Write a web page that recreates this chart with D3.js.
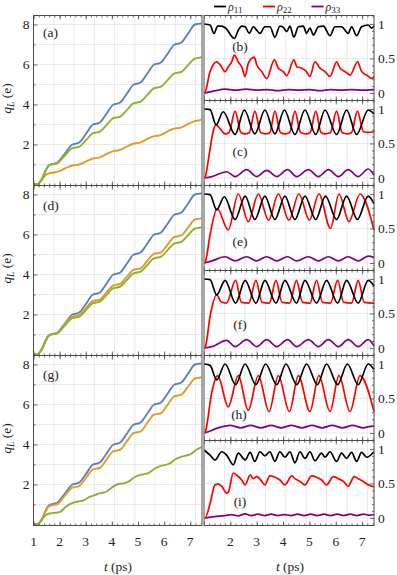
<!DOCTYPE html>
<html>
<head>
<meta charset="utf-8">
<script src="https://d3js.org/d3.v7.min.js"></script>
<style>
body{margin:0;background:#fff}
svg text{font-family:"Liberation Serif","DejaVu Serif",serif;fill:#222}
</style>
</head>
<body>
<div id="chart"></div>
<script>
// ---- data: [t (ps), value] ----
var qBlue=[[1,0],[1.15,0.01],[1.3,0.22],[1.45,0.65],[1.57,0.93],
 [1.66,1.0],[1.79,1.04],[1.92,1.1],[2.2,1.55],[2.49,2.0],[2.62,2.04],[2.75,2.1],[3.02,2.55],
 [3.28,3.0],[3.41,3.04],[3.54,3.1],[3.8,3.55],[4.06,4.0],[4.19,4.04],[4.32,4.1],[4.58,4.55],
 [4.84,5.0],[4.97,5.04],[5.1,5.1],[5.36,5.55],[5.62,6.0],[5.75,6.04],[5.88,6.1],[6.14,6.55],
 [6.4,7.0],[6.53,7.04],[6.66,7.1],[6.92,7.55],[7.18,8.0],[7.31,8.03],[7.45,8.06]];
var qGreenA=[[1,0],[1.15,0.01],[1.3,0.22],[1.45,0.65],[1.57,0.93],
 [1.66,1.0],[1.79,1.03],[1.92,1.07],[2.2,1.45],[2.49,1.82],[2.62,1.85],[2.75,1.89],[3.02,2.23],
 [3.28,2.57],[3.41,2.6],[3.54,2.64],[3.8,2.98],[4.06,3.32],[4.19,3.35],[4.32,3.39],[4.58,3.73],
 [4.84,4.07],[4.97,4.1],[5.1,4.14],[5.36,4.48],[5.62,4.82],[5.75,4.85],[5.88,4.89],[6.14,5.23],
 [6.4,5.56],[6.53,5.59],[6.66,5.63],[6.92,5.97],[7.18,6.3],[7.31,6.33],[7.45,6.37]];
var qOrangeA=[[1,0],[1.15,0.01],[1.3,0.2],[1.45,0.45],[1.57,0.55],
 [1.66,0.58],[1.79,0.6],[1.92,0.64],[2.2,0.8],[2.49,0.95],[2.62,0.97],[2.75,1.0],[3.02,1.16],
 [3.28,1.3],[3.41,1.32],[3.54,1.36],[3.8,1.53],[4.06,1.67],[4.19,1.69],[4.32,1.73],[4.58,1.9],
 [4.84,2.05],[4.97,2.07],[5.1,2.11],[5.36,2.28],[5.62,2.42],[5.75,2.44],[5.88,2.48],[6.14,2.66],
 [6.4,2.8],[6.53,2.82],[6.66,2.86],[6.92,3.03],[7.18,3.17],[7.31,3.2],[7.45,3.26]];
var qOrangeD=[[1,0],[1.15,0.01],[1.3,0.22],[1.45,0.65],[1.57,0.93],
 [1.66,1.0],[1.79,1.03],[1.92,1.07],[2.2,1.5],[2.49,1.9],[2.62,1.93],[2.75,1.97],[3.02,2.34],
 [3.28,2.68],[3.41,2.71],[3.54,2.75],[3.8,3.12],[4.06,3.46],[4.19,3.49],[4.32,3.53],[4.58,3.9],
 [4.84,4.24],[4.97,4.27],[5.1,4.31],[5.36,4.69],[5.62,5.04],[5.75,5.07],[5.88,5.11],[6.14,5.51],
 [6.4,5.88],[6.53,5.91],[6.66,5.95],[6.92,6.36],[7.18,6.75],[7.31,6.78],[7.45,6.81]];
var qOrangeG=[[1,0],[1.15,0.01],[1.3,0.21],[1.45,0.62],[1.57,0.88],
 [1.66,0.95],[1.79,0.98],[1.92,1.02],[2.2,1.44],[2.49,1.85],[2.62,1.88],[2.75,1.92],[3.02,2.35],
 [3.28,2.76],[3.41,2.79],[3.54,2.83],[3.8,3.26],[4.06,3.67],[4.19,3.7],[4.32,3.74],[4.58,4.17],
 [4.84,4.58],[4.97,4.61],[5.1,4.65],[5.36,5.09],[5.62,5.5],[5.75,5.53],[5.88,5.57],[6.14,6.0],
 [6.4,6.42],[6.53,6.45],[6.66,6.49],[6.92,6.9],[7.18,7.3],[7.31,7.33],[7.45,7.36]];
var qGreenG=[[1,0],[1.15,0.01],[1.3,0.2],[1.45,0.45],[1.6,0.55],[1.8,0.58],[2.0,0.62],[2.25,0.9],
 [2.5,1.08],[2.7,1.15],[2.9,1.2],[3.15,1.38],[3.4,1.5],[3.6,1.58],[3.8,1.65],[4.0,1.85],[4.2,2.0],
 [4.45,2.06],[4.6,2.12],[4.85,2.35],[5.05,2.47],[5.25,2.52],[5.4,2.57],[5.65,2.8],[5.85,2.92],
 [6.05,2.98],[6.2,3.04],[6.45,3.28],[6.65,3.38],[6.85,3.45],[7.0,3.5],[7.25,3.75],[7.45,3.88]];

var b11=[[1,1],[1.23,0.985],[1.38,0.865],[1.52,0.97],[1.67,0.97],[1.82,0.94],[2.15,0.79],[2.3,0.91],
 [2.43,0.97],[2.56,0.96],[2.72,0.865],[2.87,0.96],[3.0,0.91],[3.12,0.865],[3.31,0.96],[3.5,0.96],
 [3.69,0.81],[3.88,0.97],[4.01,0.95],[4.14,0.89],[4.26,0.97],[4.41,0.81],[4.58,0.96],[4.77,0.97],
 [4.89,0.865],[5.02,0.94],[5.15,0.84],[5.34,0.96],[5.53,0.97],[5.78,0.83],[5.97,0.96],[6.22,0.96],
 [6.47,0.865],[6.6,0.96],[6.79,0.83],[6.98,0.96],[7.23,0.985],[7.36,0.94],[7.45,0.97]];
var b22=[[1,0],[1.04,0.01],[1.23,0.31],[1.35,0.41],[1.48,0.45],[1.61,0.41],[1.8,0.31],[1.92,0.38],
 [2.05,0.45],[2.15,0.55],[2.3,0.45],[2.43,0.38],[2.56,0.24],[2.68,0.43],[2.91,0.52],[3.0,0.41],
 [3.19,0.31],[3.38,0.21],[3.67,0.48],[3.82,0.36],[4.01,0.31],[4.14,0.25],[4.41,0.48],[4.52,0.38],
 [4.7,0.36],[4.89,0.31],[5.02,0.24],[5.21,0.45],[5.4,0.36],[5.59,0.31],[5.78,0.24],[6.03,0.45],
 [6.16,0.36],[6.35,0.31],[6.54,0.26],[6.83,0.45],[6.98,0.31],[7.17,0.26],[7.36,0.21],[7.45,0.24]];
var b33=[[1,0],[1.1,0.005],[1.4,0.03],[1.8,0.055],[2.2,0.04],[2.6,0.055],[3.0,0.04],[3.4,0.05],
 [3.8,0.035],[4.2,0.05],[4.6,0.04],[5.0,0.05],[5.4,0.035],[5.8,0.05],[6.2,0.04],[6.6,0.05],
 [7.0,0.04],[7.45,0.05]];

var c11=[[1,1],[1.23,0.99],[1.46,0.77],[1.73,0.96],[2.18,0.63],[2.53,0.985],[2.93,0.64],[3.31,0.985],
 [3.69,0.64],[4.05,0.985],[4.45,0.63],[4.83,0.985],[5.24,0.63],[5.59,0.985],[6.03,0.63],[6.41,0.985],
 [6.79,0.63],[7.23,0.985],[7.45,0.93]];
var c22=[[1,0],[1.05,0.02],[1.2,0.35],[1.35,0.68],[1.46,0.77],[1.6,0.72],[1.8,0.64],[1.95,0.66],
 [2.18,0.97],[2.4,0.66],[2.56,0.64],[2.72,0.66],[2.93,0.97],[3.15,0.66],[3.34,0.64],[3.5,0.66],
 [3.69,0.97],[3.9,0.66],[4.07,0.64],[4.25,0.66],[4.45,0.97],[4.66,0.66],[4.86,0.64],[5.03,0.66],
 [5.24,0.97],[5.44,0.66],[5.61,0.64],[5.8,0.66],[6.03,0.97],[6.24,0.66],[6.44,0.64],[6.6,0.66],
 [6.82,0.97],[7.05,0.67],[7.2,0.66],[7.45,0.67]];
var c33=[[1,0],[1.3,0.02],[1.86,0.09],[2.18,0.02],[2.62,0.12],[3.0,0.02],[3.38,0.11],[3.76,0.02],
 [4.17,0.12],[4.52,0.02],[4.96,0.12],[5.34,0.02],[5.72,0.12],[6.1,0.02],[6.47,0.12],[6.85,0.02],
 [7.23,0.13],[7.45,0.04]];

var e11=[[1,1],[1.23,0.99],[1.48,0.77],[1.77,0.96],[2.18,0.63],[2.56,0.97],[2.93,0.63],[3.31,0.97],
 [3.69,0.63],[4.07,0.97],[4.45,0.63],[4.83,0.97],[5.24,0.63],[5.61,0.97],[6.03,0.63],[6.41,0.97],
 [6.82,0.63],[7.23,0.97],[7.45,0.86]];
var e22=[[1,0],[1.05,0.02],[1.25,0.45],[1.5,0.79],[1.92,0.48],[2.3,1.0],[2.68,0.6],[3.06,1.0],
 [3.45,0.62],[3.82,1.0],[4.22,0.62],[4.6,1.0],[5.0,0.62],[5.36,1.0],[5.8,0.5],[6.12,1.0],[6.5,0.6],
 [6.92,1.0],[7.45,0.48]];
var e33=[[1,0],[1.3,0.03],[1.8,0.09],[2.18,0.03],[2.62,0.09],[2.99,0.03],[3.38,0.09],[3.76,0.03],
 [4.17,0.09],[4.52,0.03],[4.96,0.09],[5.34,0.03],[5.72,0.09],[6.1,0.03],[6.47,0.09],[6.85,0.03],
 [7.23,0.1],[7.45,0.08]];

var f11=[[1,1],[1.23,0.99],[1.48,0.77],[1.8,0.98],[2.2,0.65],[2.56,0.98],[2.97,0.65],[3.31,0.98],
 [3.73,0.65],[4.07,0.98],[4.51,0.65],[4.83,0.98],[5.27,0.65],[5.65,0.98],[6.07,0.65],[6.41,0.98],
 [6.85,0.65],[7.23,0.98],[7.45,0.9]];
var f22=[[1,0],[1.05,0.02],[1.25,0.5],[1.48,0.77],[1.65,0.67],[1.85,0.65],[2.2,0.98],[2.42,0.66],
 [2.7,0.65],[2.97,0.98],[3.2,0.66],[3.48,0.65],[3.73,0.98],[3.96,0.66],[4.25,0.65],[4.51,0.98],
 [4.74,0.66],[5.02,0.65],[5.27,0.98],[5.5,0.66],[5.8,0.65],[6.07,0.98],[6.3,0.66],[6.6,0.65],
 [6.85,0.98],[7.08,0.66],[7.45,0.65]];
var f33=[[1,0],[1.3,0.02],[1.86,0.11],[2.18,0.02],[2.62,0.12],[3.0,0.02],[3.38,0.12],[3.76,0.02],
 [4.17,0.12],[4.52,0.02],[4.96,0.12],[5.34,0.02],[5.72,0.12],[6.1,0.02],[6.47,0.12],[6.85,0.02],
 [7.23,0.12],[7.45,0.03]];

var h11=[[1,1],[1.23,0.98],[1.48,0.77],[1.8,1.0],[2.2,0.7],[2.56,1.0],[2.97,0.7],[3.34,1.0],
 [3.76,0.7],[4.11,1.0],[4.52,0.7],[4.89,1.0],[5.3,0.7],[5.65,1.0],[6.07,0.7],[6.44,1.0],[6.85,0.7],
 [7.23,1.0],[7.45,0.92]];
var h22=[[1,0],[1.05,0.02],[1.3,0.6],[1.52,0.83],[1.92,0.38],[2.3,0.83],[2.68,0.33],[3.06,0.83],
 [3.47,0.31],[3.82,0.83],[4.24,0.31],[4.58,0.83],[5.02,0.31],[5.36,0.83],[5.78,0.31],[6.12,0.83],
 [6.54,0.31],[6.92,0.83],[7.45,0.31]];
var h33=[[1,0],[1.1,0.01],[1.5,0.07],[2.0,0.11],[2.39,0.075],[2.77,0.11],[3.16,0.075],[3.55,0.11],
 [3.93,0.075],[4.32,0.11],[4.71,0.075],[5.1,0.11],[5.48,0.075],[5.87,0.11],[6.25,0.075],[6.64,0.11],
 [7.03,0.075],[7.4,0.1],[7.45,0.1]];

var i11=[[1,0.985],[1.23,0.91],[1.42,0.84],[1.67,0.96],[1.86,0.91],[2.11,0.77],[2.3,0.94],[2.56,0.84],
 [2.75,0.95],[2.93,0.82],[3.12,0.96],[3.31,0.9],[3.5,0.96],[3.69,0.82],[3.88,0.96],[4.07,0.88],
 [4.26,0.96],[4.45,0.8],[4.64,0.96],[4.83,0.865],[5.02,0.96],[5.21,0.83],[5.46,0.94],[5.59,0.88],
 [5.78,0.96],[6.03,0.82],[6.22,0.94],[6.41,0.865],[6.6,0.95],[6.79,0.82],[6.98,0.95],[7.17,0.88],
 [7.45,0.96]];
var i22=[[1,0],[1.04,0],[1.23,0.21],[1.42,0.48],[1.54,0.49],[1.67,0.46],[1.86,0.36],[1.92,0.37],
 [2.11,0.65],[2.24,0.62],[2.43,0.55],[2.56,0.48],[2.75,0.62],[2.87,0.57],[3.0,0.6],[3.19,0.53],
 [3.31,0.48],[3.5,0.61],[3.69,0.59],[3.88,0.55],[4.07,0.48],[4.33,0.61],[4.45,0.57],[4.64,0.53],
 [4.83,0.48],[5.08,0.61],[5.27,0.59],[5.46,0.55],[5.65,0.48],[5.91,0.6],[6.1,0.57],[6.29,0.53],
 [6.47,0.46],[6.7,0.6],[6.85,0.57],[7.04,0.53],[7.23,0.48],[7.45,0.45]];
var i33=[[1,0],[1.1,0.005],[1.4,0.02],[1.8,0.035],[2.05,0.05],[2.3,0.03],[2.55,0.06],[2.8,0.035],
 [3.05,0.055],[3.3,0.035],[3.55,0.055],[3.8,0.035],[4.05,0.05],[4.3,0.035],[4.55,0.055],[4.8,0.035],
 [5.05,0.055],[5.3,0.035],[5.55,0.055],[5.8,0.035],[6.05,0.055],[6.3,0.035],[6.55,0.055],[6.8,0.035],
 [7.05,0.055],[7.3,0.04],[7.45,0.05]];

// grid lines (one per driving period) and tick labels
var gridT=[1.78,2.55,3.33,4.1,4.88,5.65,6.43,7.2];
var leftTicks=[2,4,6,8];
var rightTicks=[0,0.5,1];
var tLabelsL=[1,2,3,4,5,6,7];
var tLabelsR=[2,3,4,5,6,7];

var blue="#5e81b5", orange="#e19c24", green="#8fb032";
var frameCol="#4a4a4a", gridCol="#e3e3e3";
var serif="Liberation Serif, DejaVu Serif, serif";

var W=397,H=575;
var svg=d3.select("#chart").append("svg").attr("width",W).attr("height",H)
	.attr("font-family",serif);

var rowTop=[15.5,185.5,355.5], rowH=170;
var xL=d3.scaleLinear().domain([1,7.45]).range([33.5,202]);
var xR=d3.scaleLinear().domain([1,7.45]).range([204,374]);
var minorT=d3.range(1,7.45,0.2);

function txt(g){
	return g.append("text").attr("font-family",serif).attr("font-size",13.5).attr("fill","#222");
}

function edgeTicks(g,x,yTop,yBot){
	// inward ticks along top and bottom edges
	g.append("g").attr("transform","translate(0,"+yTop+")")
		.call(d3.axisBottom(x).tickValues(minorT).tickSize(2).tickFormat(""));
	g.append("g").attr("transform","translate(0,"+yTop+")")
		.call(d3.axisBottom(x).tickValues(tLabelsL).tickSize(4).tickFormat(""));
	g.append("g").attr("transform","translate(0,"+yBot+")")
		.call(d3.axisTop(x).tickValues(minorT).tickSize(2).tickFormat(""));
	g.append("g").attr("transform","translate(0,"+yBot+")")
		.call(d3.axisTop(x).tickValues(tLabelsL).tickSize(4).tickFormat(""));
}

function styleAxes(g){
	g.selectAll(".domain").remove();
	g.selectAll(".tick line").attr("stroke",frameCol).attr("stroke-width",0.8);
}

function leftPanel(top,label,labOff,series){
	var y=d3.scaleLinear().domain([-0.05,8.45]).range([top+rowH,top]);
	var g=svg.append("g");
	// grid
	g.selectAll(".gh").data([1,2,3,4,5,6,7,8]).enter().append("line")
		.attr("x1",33.5).attr("x2",202).attr("y1",d=>y(d)).attr("y2",d=>y(d))
		.attr("stroke",gridCol).attr("stroke-width",0.8);
	g.selectAll(".gv").data(gridT).enter().append("line")
		.attr("x1",d=>xL(d)).attr("x2",d=>xL(d)).attr("y1",top).attr("y2",top+rowH)
		.attr("stroke",gridCol).attr("stroke-width",0.8);
	var line=d3.line().x(d=>xL(d[0])).y(d=>y(d[1])).curve(d3.curveMonotoneX);
	series.forEach(function(s){
		g.append("path").datum(s.data).attr("d",line).attr("fill","none")
			.attr("stroke",s.color).attr("stroke-width",1.9);
	});
	var ax=g.append("g");
	edgeTicks(ax,xL,top,top+rowH);
	ax.append("g").attr("transform","translate(33.5,0)")
		.call(d3.axisRight(y).tickValues(leftTicks).tickSize(4).tickFormat(""));
	ax.append("g").attr("transform","translate(33.5,0)")
		.call(d3.axisRight(y).tickValues([1,3,5,7]).tickSize(2).tickFormat(""));
	styleAxes(ax);
	g.append("rect").attr("x",33.5).attr("y",top).attr("width",168.5).attr("height",rowH)
		.attr("fill","none").attr("stroke",frameCol).attr("stroke-width",1);
	// tick labels
	leftTicks.forEach(function(d){
		txt(g).attr("x",29.5).attr("y",y(d)+4.6).attr("text-anchor","end").text(d);
	});
	txt(g).attr("x",43).attr("y",top+labOff).text(label);
	// axis title
	var ty=top+rowH/2-2;
	var tt=txt(g).attr("transform","translate(11,"+ty+") rotate(-90)").attr("text-anchor","middle");
	tt.append("tspan").attr("font-style","italic").text("q");
	tt.append("tspan").attr("font-style","italic").attr("font-size",9.5).attr("dy",3).text("L");
	tt.append("tspan").attr("dy",-3).text(" (e)");
}

function rightPanel(top,label,labX,labOff,d11,d22,d33){
	var h=85;
	var y=d3.scaleLinear().domain([-0.109,1.123]).range([top+h,top]);
	var g=svg.append("g");
	g.selectAll(".gv").data(gridT).enter().append("line")
		.attr("x1",d=>xR(d)).attr("x2",d=>xR(d)).attr("y1",top).attr("y2",top+h)
		.attr("stroke",gridCol).attr("stroke-width",0.8);
	g.selectAll(".gh").data(rightTicks).enter().append("line")
		.attr("x1",204).attr("x2",374).attr("y1",d=>y(d)).attr("y2",d=>y(d))
		.attr("stroke",gridCol).attr("stroke-width",0.8);
	var line=d3.line().x(d=>xR(d[0])).y(d=>y(d[1])).curve(d3.curveMonotoneX);
	[[d33,"#800080"],[d22,"#ff0000"],[d11,"#000000"]].forEach(function(s){
		g.append("path").datum(s[0]).attr("d",line).attr("fill","none")
			.attr("stroke",s[1]).attr("stroke-width",1.7);
	});
	var ax=g.append("g");
	edgeTicks(ax,xR,top,top+h);
	ax.append("g").attr("transform","translate(374,0)")
		.call(d3.axisLeft(y).tickValues(rightTicks).tickSize(4).tickFormat(""));
	ax.append("g").attr("transform","translate(374,0)")
		.call(d3.axisLeft(y).tickValues([0.1,0.2,0.3,0.4,0.6,0.7,0.8,0.9]).tickSize(2).tickFormat(""));
	styleAxes(ax);
	g.append("rect").attr("x",204).attr("y",top).attr("width",170).attr("height",h)
		.attr("fill","none").attr("stroke",frameCol).attr("stroke-width",1);
	rightTicks.forEach(function(d){
		txt(g).attr("x",378).attr("y",y(d)+4.6).text(d);
	});
	txt(g).attr("x",labX).attr("y",top+labOff).attr("text-anchor","middle").text(label);
}

leftPanel(rowTop[0],"(a)",21,[{data:qBlue,color:blue},{data:qOrangeA,color:orange},{data:qGreenA,color:green}]);
leftPanel(rowTop[1],"(d)",24,[{data:qBlue,color:blue},{data:qOrangeD,color:orange},{data:qGreenA,color:green}]);
leftPanel(rowTop[2],"(g)",23.5,[{data:qBlue,color:blue},{data:qOrangeG,color:orange},{data:qGreenG,color:green}]);

rightPanel(rowTop[0],"(b)",240,35.5,b11,b22,b33);
rightPanel(rowTop[0]+85,"(c)",240,55.5,c11,c22,c33);
rightPanel(rowTop[1],"(e)",240,60.5,e11,e22,e33);
rightPanel(rowTop[1]+85,"(f)",240,58.5,f11,f22,f33);
rightPanel(rowTop[2],"(h)",239,63.5,h11,h22,h33);
rightPanel(rowTop[2]+85,"(i)",240,65.5,i11,i22,i33);

// gray separator between the two columns
rowTop.forEach(function(t){
	svg.append("rect").attr("x",201.5).attr("y",t).attr("width",2.8).attr("height",rowH)
		.attr("fill","#a8a8a8");
});

// bottom tick labels
tLabelsL.forEach(function(d){
	txt(svg).attr("x",xL(d)).attr("y",546).attr("text-anchor","middle").text(d);
});
tLabelsR.forEach(function(d){
	txt(svg).attr("x",xR(d)).attr("y",546).attr("text-anchor","middle").text(d);
});
[118,290].forEach(function(cx){
	var t=txt(svg).attr("x",cx).attr("y",571).attr("text-anchor","middle");
	t.append("tspan").attr("font-style","italic").text("t");
	t.append("tspan").text(" (ps)");
});

// legend
var leg=[{c:"#000000",s:"11",x:214},{c:"#ff0000",s:"22",x:263},{c:"#800080",s:"33",x:311.5}];
leg.forEach(function(l){
	svg.append("line").attr("x1",l.x).attr("x2",l.x+12).attr("y1",6.5).attr("y2",6.5)
		.attr("stroke",l.c).attr("stroke-width",1.8);
	var t=txt(svg).attr("x",l.x+14).attr("y",11).attr("font-size",12);
	t.append("tspan").attr("font-style","italic").text("\u03c1");
	t.append("tspan").attr("font-size",9).attr("dy",2).text(l.s);
});
</script>
</body>
</html>
